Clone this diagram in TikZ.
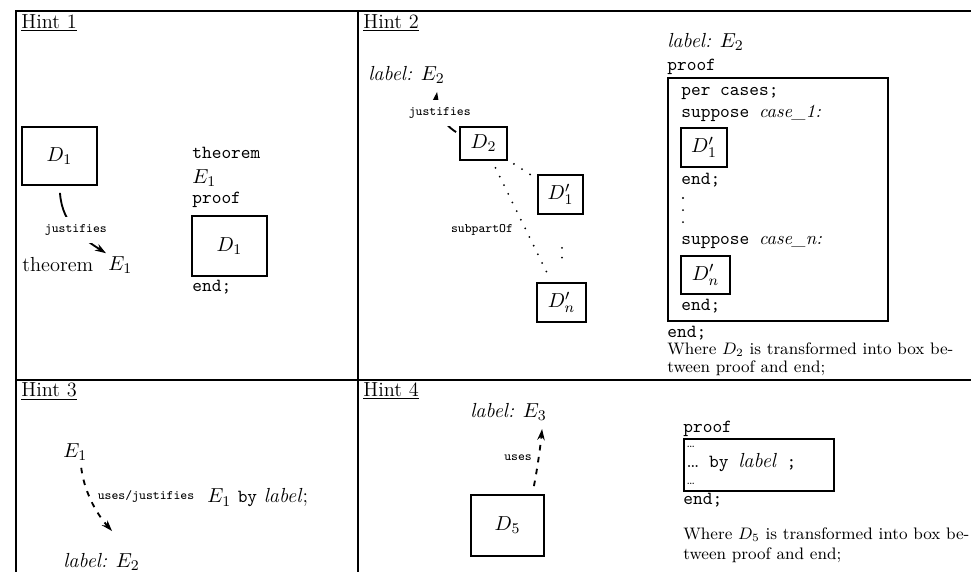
\documentclass[tikz,border=0pt]{standalone}
\usetikzlibrary{arrows.meta,calc}
\begin{document}
\begin{tikzpicture}[x=0.5405pt,y=-0.5405pt,
  frame/.style={line width=1.1pt},
  hint/.style={anchor=base west,inner sep=0,font=\fontsize{11}{13}\selectfont},
  rm/.style={anchor=west,inner sep=0,font=\fontsize{11}{13}\selectfont},
  tt/.style={anchor=west,inner sep=0,font=\fontsize{10}{12}\selectfont\ttfamily},
  note/.style={anchor=west,inner sep=0,font=\fontsize{9}{11}\selectfont},
  rel/.style={font=\fontsize{7}{8}\selectfont\ttfamily,inner sep=1pt},
  tiny/.style={anchor=west,inner sep=0,font=\fontsize{6}{7}\selectfont},
  bx/.style 2 args={draw,line width=1pt,inner sep=0,minimum width=#1*0.5405pt,minimum height=#2*0.5405pt,font=\fontsize{11}{13}\selectfont},
  arr/.style={line width=1pt,-{Stealth[length=6pt,width=4pt]}},
  dsh/.style={arr,dash pattern=on 3pt off 3.5pt},
  dots/.style={line width=1.1pt,line cap=round,dash pattern=on 0pt off 5.2pt},
]
\useasboundingbox (0,0) rectangle (971,572);
% frame
\draw[frame] (971,11) -- (16,11) -- (16,572);
\draw[frame] (358,11) -- (358,572);
\draw[frame] (16,380) -- (971,380);
% titles
\node[hint] (h1) at (21,28) {\underline{Hint 1}};
\node[hint] (h2) at (363,28) {\underline{Hint 2}};
\node[hint] (h3) at (21,396) {\underline{Hint 3}};
\node[hint] (h4) at (363,396) {\underline{Hint 4}};
% ---------- Hint 1
\node[bx={75}{58}] (d1) at (59.5,156) {$D_1$};
\node[rm] (thm) at (22,265) {theorem};
\node[rm] (e1) at (108,265) {$E_1$};
\draw[arr] ($(d1.south)+(0.5,7)$) .. controls (62,225) and (85,240) .. ($(e1.north west)+(-2,-3)$)
  node[pos=0.5,rel,fill=white,inner ysep=4pt] (j1) {justifies};
\node[tt] (t1) at (192,153) {theorem};
\node[rm] (t1e) at (192,178) {$E_1$};
\node[tt] (t1p) at (192,200) {proof};
\node[bx={75}{60}] (d1b) at (229.5,246) {$D_1$};
\node[tt] (t1end) at (192,287) {end;};
% ---------- Hint 2 left
\node[rm] (l2) at (368,75) {\textit{label:} $E_2$};
\node[bx={47}{33}] (d2) at (483.5,143.5) {$D_2$};
\node[bx={45}{39}] (d1p) at (560.5,194.5) {$D'_1$};
\node[bx={49}{39}] (dnp) at (561.5,302.5) {$D'_n$};
\draw[arr] ($(d2.north west)+(-3,6)$) .. controls (440,122) and (435,105) .. ($(l2.south east)+(-8,8)$)
  node[pos=0.5,rel,fill=white,inner ysep=4pt] (j2) {justifies};
\draw[dots] ($(d2.south east)+(6,3)$) -- ($(d1p.north west)+(-6,1)$);
\draw[dots] ($(d2.south)+(12,7)$) -- ($(dnp.north west)+(12,-7)$);
\draw[dots] ($(d1p.south)+(1.5,33)$) -- ($(dnp.north)+(0.5,-16)$);
\node[rel] (sub) at (482,230) {subpartOf};
% ---------- Hint 2 right
\node[rm] (l2r) at (667,42) {\textit{label:} $E_2$};
\node[tt] (p2) at (667,67) {proof};
\node[bx={220}{243}] (big) at (778,199.5) {};
\node[tt] (pc) at (681,93) {per cases;};
\node[tt] (s1) at (681,113) {suppose \textit{\rmfamily case\_1:}};
\node[bx={46}{39}] (c1) at (704,147.5) {$D'_1$};
\node[tt] (e1in) at (681,180) {end;};
\draw[dots,dash pattern=on 0pt off 6.5pt] (683,198) -- (683,223);
\node[tt] (sn) at (681,242) {suppose \textit{\rmfamily case\_n:}};
\node[bx={49}{38}] (cn) at (705.5,275) {$D'_n$};
\node[tt] (enin) at (681,306) {end;};
\node[tt] (eout) at (667,333) {end;};
\node[note] (w2a) at (667,350) {Where $D_2$ is transformed into box be-};
\node[note] (w2b) at (667,368) {tween proof and end;};
% ---------- Hint 3
\node[rm] (h3e1) at (63,452) {$E_1$};
\node[rm] (h3l) at (63,562) {\textit{label:} $E_2$};
\draw[dsh] ($(h3e1.south)+(6,7)$) .. controls (84,490) and (95,512) .. ($(h3l.north)+(10.5,-22)$);
\node[rel] (uj) at (146,496) {uses/justifies};
\node[rm] (by1) at (207,498) {$E_1$ {\fontsize{10}{12}\selectfont\ttfamily by} \textit{label};};
% ---------- Hint 4
\node[rm] (l3) at (470,412) {\textit{label:} $E_3$};
\node[bx={73}{61}] (d5) at (507.5,525.5) {$D_5$};
\draw[dsh] ($(d5.north east)+(-11,-8)$) .. controls (537,470) and (540,450) .. ($(l3.south east)+(-5,8)$);
\node[rel] (uses) at (518,458) {uses};
\node[tt] (p4) at (683,429) {proof};
\node[bx={150}{52}] (b4) at (759,465) {};
\node[tiny] (dd1) at (686,447) {\ldots};
\node[tt] (by4) at (686,463) {{\rmfamily\fontsize{11}{13}\selectfont\ldots} by \textit{\rmfamily\fontsize{11}{13}\selectfont label} ;};
\node[tiny] (dd2) at (686,484) {\ldots};
\node[tt] (end4) at (683,500) {end;};
\node[note] (w4a) at (683,535) {Where $D_5$ is transformed into box be-};
\node[note] (w4b) at (683,555) {tween proof and end;};
\end{tikzpicture}
\end{document}
